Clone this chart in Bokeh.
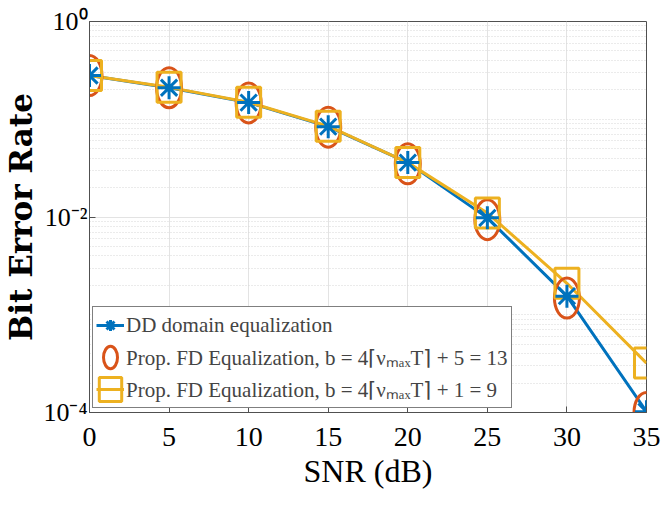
from bokeh.plotting import figure
from bokeh.models import FixedTicker, CustomJSTickFormatter, Legend, LegendItem
from bokeh.embed import file_html
from bokeh.resources import INLINE

snr = [0, 5, 10, 15, 20, 25, 30, 35]
ber_dd = [0.28, 0.21, 0.148, 0.084, 0.036, 0.0098, 0.00155, 1.02e-4]
ber_fd13 = [0.28, 0.21, 0.147, 0.083, 0.035, 0.0094, 0.00148, 1.0e-4]
ber_fd9 = [0.28, 0.212, 0.149, 0.085, 0.036, 0.0110, 0.0021, 3.2e-4]

x_ticks = [0, 5, 10, 15, 20, 25, 30, 35]
y_ticks = [1e-4, 1e-2, 1.0]
y_minor = [k * 10.0 ** e for e in range(-4, 0) for k in range(1, 10)
           if not (k == 1 and e in (-4, -2))]

labels = ["DD domain equalization",
          "Prop. FD Equalization, b = 4\u2308\u03bd\u2098\u2090\u2093T\u2309 + 5 = 13",
          "Prop. FD Equalization, b = 4\u2308\u03bd\u2098\u2090\u2093T\u2309 + 1 = 9"]

BLUE, ORANGE, YELLOW = "#0072BD", "#D95319", "#EDB120"
FONT = "Liberation Serif"

p = figure(width=661, height=501, x_range=(0, 35), y_range=(1e-4, 1.0),
           y_axis_type="log", output_backend="svg", toolbar_location=None,
           min_border_left=80, min_border_right=15, min_border_top=21,
           min_border_bottom=89, background_fill_color="white")

l_dd = p.line(snr, ber_dd, color=BLUE, line_width=3)
l_fd9 = p.line(snr, ber_fd9, color=YELLOW, line_width=3)
e_fd13 = p.ellipse(x=snr, y=ber_fd13, width=25, height=40, width_units="screen",
                   height_units="screen", fill_color=None, line_color=ORANGE, line_width=3)
r_fd9 = p.rect(x=snr, y=ber_fd9, width=24, height=30, width_units="screen",
               height_units="screen", fill_color=None, line_color=YELLOW, line_width=3)
s_dd = p.scatter(snr, ber_dd, marker="asterisk", size=23, line_color=BLUE, line_width=3)

p.xaxis.ticker = FixedTicker(ticks=x_ticks)
p.yaxis.ticker = FixedTicker(ticks=y_ticks, minor_ticks=y_minor)
p.yaxis.formatter = CustomJSTickFormatter(code="""
const e = Math.round(Math.log10(tick));
const sup = {'-':'\u207b','0':'\u2070','1':'\u00b9','2':'\u00b2','3':'\u00b3','4':'\u2074','5':'\u2075','6':'\u2076','7':'\u2077','8':'\u2078','9':'\u2079'};
return '10' + String(e).split('').map(c => sup[c]).join('');
""")

for ax in (p.xaxis[0], p.yaxis[0]):
    ax.axis_line_color = "#505050"
    ax.major_tick_line_color = "#505050"
    ax.major_tick_in = 6
    ax.major_tick_out = 0
    ax.minor_tick_in = 0
    ax.minor_tick_out = 0
    ax.major_label_text_font = FONT
    ax.major_label_text_color = "black"
    ax.axis_label_text_font = FONT
    ax.axis_label_text_color = "black"
    ax.axis_label_text_font_style = "normal"

p.xaxis.major_label_text_font_size = "28px"
p.xaxis.major_label_standoff = 15
p.xaxis.axis_label = "SNR (dB)"
p.xaxis.axis_label_text_font_size = "32px"
p.xaxis.axis_label_standoff = 4

p.yaxis.major_label_text_font_size = "26px"
p.yaxis.major_label_standoff = 2
p.yaxis.axis_label = "Bit Error Rate"
p.yaxis.axis_label_text_font = "DejaVu Serif"
p.yaxis.axis_label_text_font_size = "31px"
p.yaxis.axis_label_text_font_style = "bold"
p.yaxis.axis_label_standoff = 1

p.outline_line_color = "#505050"
p.outline_line_width = 1
p.xgrid.grid_line_color = "#e3e3e3"
p.ygrid.grid_line_color = "#e3e3e3"
p.ygrid.minor_grid_line_color = "#d6d6d6"
p.ygrid.minor_grid_line_dash = "1 2"

legend = Legend(items=[
    LegendItem(label=labels[0], renderers=[l_dd, s_dd]),
    LegendItem(label=labels[1], renderers=[e_fd13]),
    LegendItem(label=labels[2], renderers=[l_fd9, r_fd9]),
], location=(3, 4), label_text_font=FONT, label_text_font_size="21px",
    glyph_width=28, glyph_height=30, label_height=30, spacing=2, padding=3,
    margin=0, border_line_color="black", border_line_width=1,
    background_fill_color="white", background_fill_alpha=1.0, label_standoff=2)
p.add_layout(legend)

open("out.html", "w").write(file_html(p, INLINE))
